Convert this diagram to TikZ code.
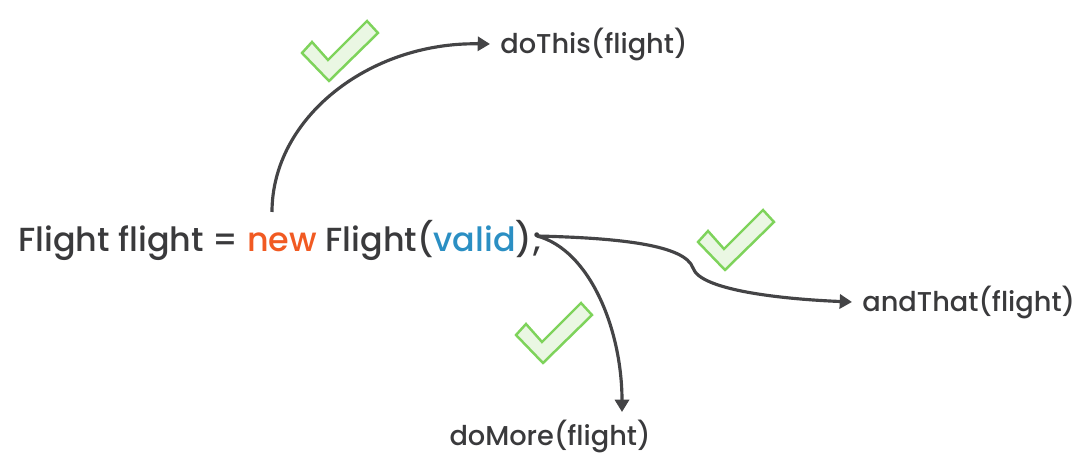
\documentclass[tikz,border=0pt]{standalone}
\usepackage{fontspec}
\setmainfont{Poppins}
\IfFontExistsTF{Poppins Medium}{\newfontfamily\medfont{Poppins Medium}}{\newfontfamily\medfont[FakeBold=0.6]{Poppins}}
\usepackage{xcolor}
\usetikzlibrary{arrows.meta, positioning, calc}
\definecolor{codegray}{HTML}{3A3A3C}
\definecolor{neworange}{HTML}{F15A22}
\definecolor{validblue}{HTML}{2B8FC3}
\definecolor{tickgreen}{HTML}{7ED35B}
\definecolor{tickfill}{HTML}{EAF7E3}

\begin{document}
\begin{tikzpicture}[x=0.02cm, y=-0.02cm,
    flow/.style={line width=1.8pt, draw=codegray!95, -{Triangle[length=7pt, width=8pt]}},
    call/.style={text=codegray, font=\medfont\fontsize{15.5}{18}\selectfont, inner sep=0.2cm},
    tick/.style={draw=tickgreen, fill=tickfill, line width=1.4pt, line join=miter}]
    \useasboundingbox (0,0) rectangle (1092,455);

    % the statement
    \node[anchor=west, text=codegray, font=\medfont\fontsize{19}{22}\selectfont, inner sep=0pt] (stmt) at (18,240)
        {Flight flight = {\color{neworange}new} Flight({\color{validblue}valid});};
    \coordinate (src) at (272,212);
    \coordinate (semi) at (537,236);

    % the calls
    \node[call, anchor=west] (dothis) at (490,44) {doThis(flight)};
    \node[call, anchor=west] (andthat) at (852,302) {andThat(flight)};
    \node[call, anchor=north, inner sep=0.15cm] (domore) at (550,412) {doMore(flight)};

    % the arrows
    \draw[flow] (src) .. controls (272,118) and (369,42) .. (dothis.west);
    \draw[flow] (semi) .. controls (620,238) and (685,245) .. (693,268)
        .. controls (700,290) and (780,299) .. (andthat.west);
    \draw[flow] (semi) .. controls (590,250) and (622,330) .. ($(domore.north)+(72,0)$);

    % the ticks
    \foreach \x/\y in {329/81, 725/270, 543/363} {
        \draw[tick, shift={(\x,\y)}] (0,0) -- (-27,-28) -- (-17,-39) -- (-1,-21) -- (38,-60) -- (49,-48) -- cycle;
    }
\end{tikzpicture}
\end{document}
